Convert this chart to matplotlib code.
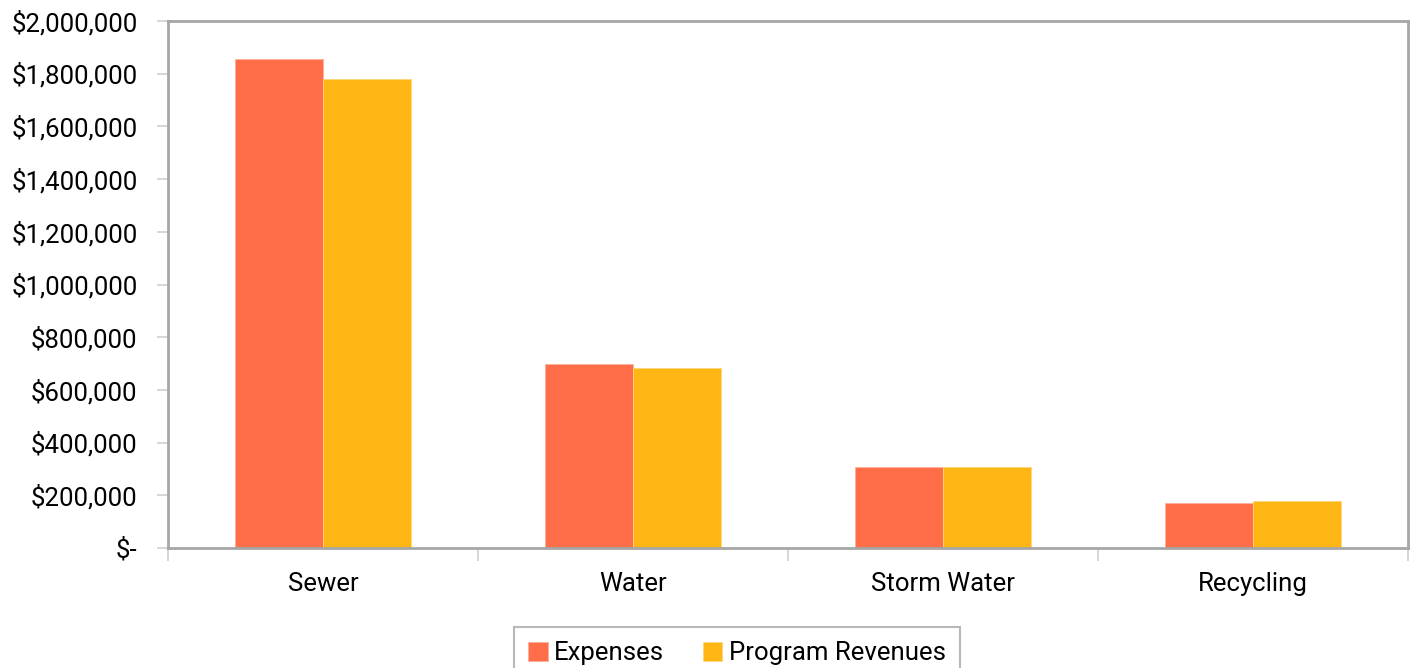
import matplotlib.pyplot as plt
import numpy as np
from matplotlib.ticker import FuncFormatter, FixedLocator

plt.rcParams["font.family"] = ["Roboto", "DejaVu Sans"]

categories = ["Sewer", "Water", "Storm Water", "Recycling"]
expenses = [1856000, 697000, 307000, 170000]
program_revenues = [1780000, 682000, 307000, 178000]

EXP_COLOR = "#FF6E48"
REV_COLOR = "#FEB614"
FRAME = "#A6A6A6"
FS = 18.5


def money(v, _pos):
    if v == 0:
        return "$-"
    return f"${v:,.0f}"


fig = plt.figure(figsize=(14.14, 6.68), dpi=100)
ax = fig.add_axes([168 / 1414, 120 / 668, 1240 / 1414, 527 / 668])

x = np.arange(len(categories))
width = 0.284
ax.bar(x - width / 2, expenses, width, color=EXP_COLOR, label="Expenses",
       edgecolor="#FFB09A", linewidth=0.6)
ax.bar(x + width / 2, program_revenues, width, color=REV_COLOR, label="Program Revenues",
       edgecolor="#FFD77A", linewidth=0.6)

ax.set_xlim(-0.5, len(categories) - 0.5)
ax.set_ylim(0, 2000000)
ax.set_yticks(np.arange(0, 2000001, 200000))
ax.yaxis.set_major_formatter(FuncFormatter(money))

# category labels centred, tick marks on the category boundaries
ax.set_xticks(x)
ax.set_xticklabels(categories)
ax.xaxis.set_minor_locator(FixedLocator(np.arange(-0.5, len(categories), 1.0)))
ax.tick_params(axis="x", which="major", length=0, pad=17, labelsize=FS)
ax.tick_params(axis="x", which="minor", length=9, width=1.2, color="#D0D0D0", direction="out")
ax.tick_params(axis="y", length=8, width=1.2, color="#D0D0D0", direction="out", labelsize=FS, pad=14)

for spine in ax.spines.values():
    spine.set_color(FRAME)
    spine.set_linewidth(2)

leg = fig.legend(loc="upper center", bbox_to_anchor=(737 / 1414, 41 / 668), ncol=2,
                 fontsize=FS, frameon=True, fancybox=False, handlelength=0.75, handleheight=0.75,
                 handletextpad=0.25, columnspacing=1.5, borderpad=0.55, borderaxespad=0)
leg.get_frame().set_edgecolor(FRAME)
leg.get_frame().set_linewidth(1.5)

fig.savefig("out.png", dpi=100)
